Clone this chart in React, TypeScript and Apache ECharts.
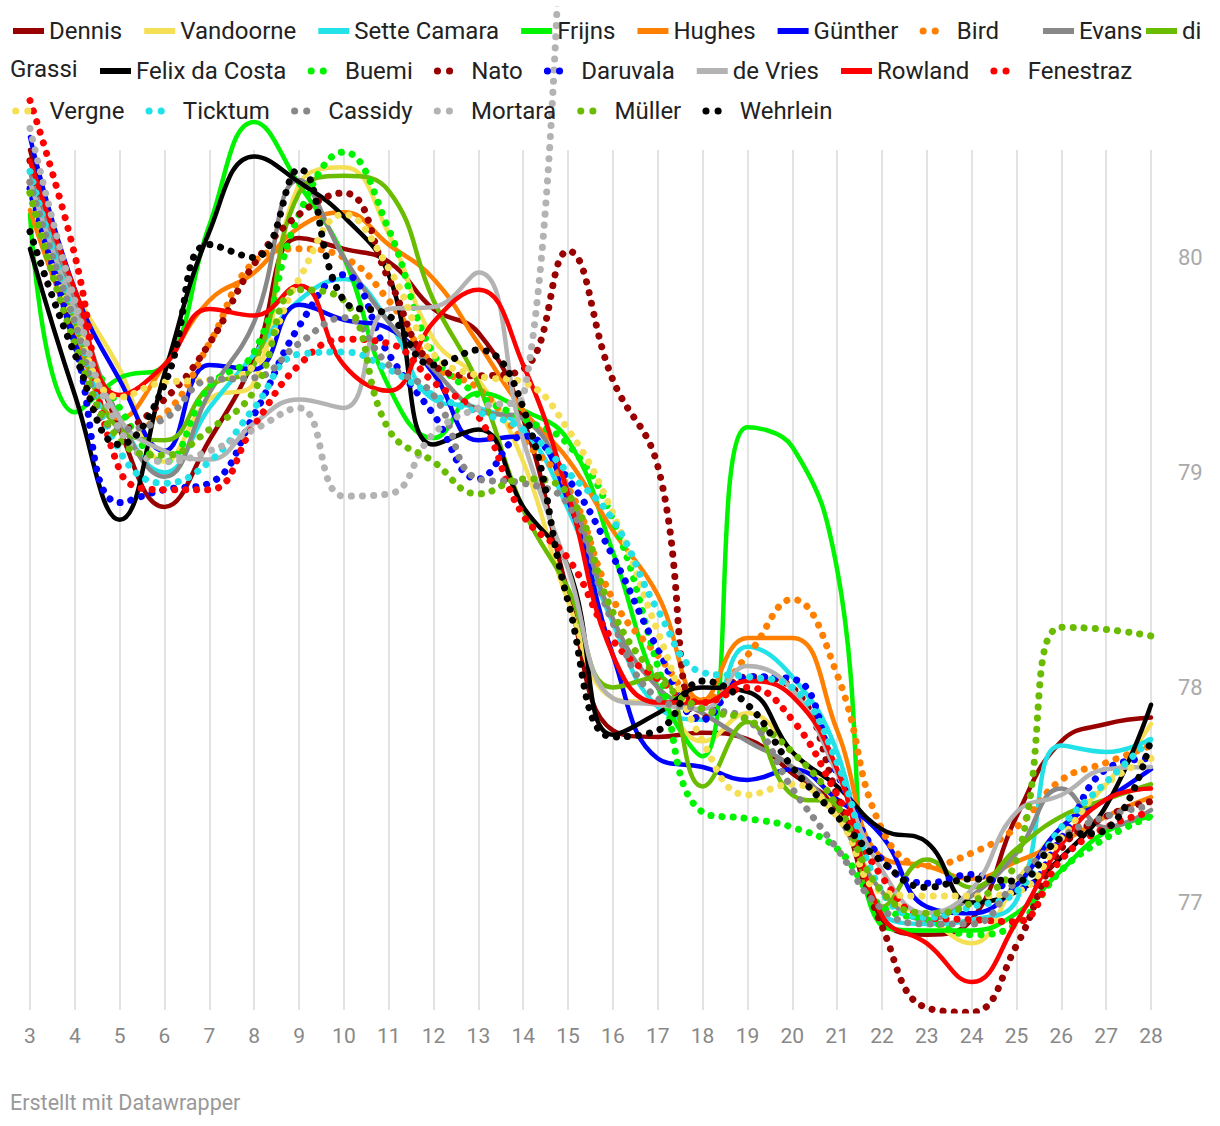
import React, { useEffect, useRef } from "react";
import * as echarts from "echarts";

const laps = [3, 4, 5, 6, 7, 8, 9, 10, 11, 12, 13, 14, 15, 16, 17, 18, 19, 20, 21, 22, 23, 24, 25, 26, 27, 28];

const dennis = [80.5, 79.8, 79.2, 78.84, 79.15, 79.53, 80.09, 80.04, 79.98, 79.76, 79.65, 79.25, 78.44, 77.8, 77.77, 77.79, 77.76, 77.6, 77.43, 76.92, 76.85, 76.92, 77.4, 77.75, 77.83, 77.86];
const vandoorne = [80.4, 79.85, 79.48, 79.05, 79.34, 79.42, 80.34, 80.42, 80.11, 79.62, 79.43, 79.05, 78.4, 77.95, 77.92, 77.75, 77.88, 77.7, 77.45, 77.05, 76.93, 76.81, 77.1, 77.35, 77.55, 77.83];
const setteCamara = [80.4, 79.75, 79.25, 79.0, 79.3, 79.55, 79.8, 79.9, 79.7, 79.34, 79.3, 79.2, 78.83, 78.3, 77.91, 77.85, 78.19, 78.05, 77.7, 76.95, 76.9, 76.92, 77.01, 77.73, 77.7, 77.76];
const frijns = [80.2, 79.28, 79.44, 79.5, 80.15, 80.63, 80.34, 80.0, 79.4, 79.16, 79.37, 79.29, 79.15, 78.63, 78.0, 77.68, 79.21, 79.12, 78.55, 76.89, 76.87, 76.87, 76.95, 77.15, 77.33, 77.4];
const hughes = [80.22, 79.65, 79.25, 79.5, 79.8, 79.93, 80.14, 80.21, 80.06, 79.9, 79.6, 79.29, 79.06, 78.73, 78.43, 77.94, 78.23, 78.23, 77.8, 77.21, 77.17, 77.11, 77.19, 77.28, 77.4, 77.49];
const guenther = [80.56, 79.85, 79.43, 79.1, 79.5, 79.48, 79.78, 79.71, 79.67, 79.46, 79.15, 79.17, 78.87, 78.15, 77.67, 77.63, 77.57, 77.62, 77.48, 77.31, 76.98, 76.95, 77.08, 77.35, 77.48, 77.62];
const bird = [80.35, 79.7, 79.2, 79.27, 79.6, 79.98, 80.04, 80.0, 79.8, 79.5, 79.39, 79.15, 78.93, 78.41, 78.15, 77.94, 78.15, 78.41, 78.06, 77.34, 77.17, 77.23, 77.35, 77.57, 77.65, 77.73];
const evans = [80.4, 79.8, 79.25, 78.98, 79.37, 79.7, 80.36, 80.0, 79.7, 79.48, 79.29, 79.25, 78.92, 78.32, 78.0, 77.88, 77.75, 77.63, 77.4, 77.05, 76.92, 77.03, 77.23, 77.53, 77.35, 77.43];
const diGrassi = [80.3, 79.7, 79.2, 79.15, 79.4, 79.5, 80.3, 80.38, 80.31, 79.8, 79.41, 78.83, 78.46, 78.0, 78.05, 77.54, 77.84, 77.5, 77.45, 76.98, 77.2, 77.07, 77.25, 77.4, 77.48, 77.55];
const felixDaCosta = [80.04, 79.36, 78.78, 79.46, 80.12, 80.47, 80.35, 80.19, 79.92, 79.13, 79.2, 78.84, 78.56, 77.78, 77.88, 78.0, 77.98, 77.7, 77.54, 77.34, 77.28, 77.0, 77.05, 77.21, 77.45, 77.92];
const buemi = [80.3, 79.7, 79.3, 79.05, 79.4, 79.56, 80.2, 80.49, 80.13, 79.55, 79.36, 79.25, 79.13, 78.78, 78.1, 77.42, 77.39, 77.35, 77.25, 76.98, 76.92, 76.85, 76.9, 77.15, 77.3, 77.4];
const nato = [80.45, 79.6, 79.2, 79.34, 79.6, 79.97, 80.2, 80.3, 79.9, 79.5, 79.45, 79.48, 80.03, 79.43, 79.03, 77.85, 78.05, 78.0, 77.5, 76.89, 76.51, 76.49, 76.8, 77.25, 77.4, 77.47];
const daruvala = [80.32, 79.6, 78.86, 78.92, 78.95, 79.27, 79.68, 79.92, 79.55, 79.27, 78.97, 79.17, 78.97, 78.61, 78.18, 77.85, 78.05, 78.04, 77.6, 77.2, 77.09, 77.13, 77.06, 77.3, 77.62, 77.67];
const deVries = [80.35, 79.75, 79.25, 79.1, 79.06, 79.23, 79.34, 79.3, 79.76, 79.77, 79.93, 79.15, 78.55, 77.95, 77.92, 77.9, 78.1, 77.99, 77.6, 77.15, 76.95, 77.06, 77.42, 77.5, 77.62, 77.63];
const rowland = [80.45, 79.85, 79.36, 79.5, 79.76, 79.73, 79.87, 79.5, 79.38, 79.7, 79.85, 79.5, 78.9, 78.15, 77.93, 77.93, 78.03, 77.96, 77.62, 76.94, 76.81, 76.63, 76.91, 77.27, 77.48, 77.53];
const fenestraz = [80.73, 80.01, 79.01, 78.92, 78.92, 79.22, 79.5, 79.62, 79.6, 79.42, 79.26, 78.8, 78.6, 78.22, 78.04, 77.93, 78.0, 77.85, 77.5, 77.12, 76.93, 76.92, 76.91, 77.2, 77.35, 77.42];
const vergne = [80.3, 79.7, 79.35, 79.42, 79.43, 79.5, 79.9, 80.2, 79.95, 79.55, 79.45, 79.42, 79.2, 78.81, 78.26, 77.75, 77.5, 77.55, 77.4, 77.05, 77.03, 77.03, 77.05, 77.3, 77.55, 77.67];
const ticktum = [80.4, 79.7, 79.1, 78.95, 79.05, 79.3, 79.55, 79.56, 79.48, 79.36, 79.28, 79.2, 79.0, 78.78, 78.36, 78.07, 78.05, 78.0, 77.65, 77.05, 76.93, 76.98, 77.05, 77.35, 77.56, 77.76];
const cassidy = [80.35, 79.7, 79.2, 79.25, 79.43, 79.44, 79.6, 79.72, 79.5, 79.36, 78.97, 78.95, 78.85, 78.3, 77.95, 77.9, 77.85, 77.53, 77.25, 76.97, 76.9, 76.9, 77.1, 77.3, 77.4, 77.45];
const mortara = [80.6, 79.8, 79.2, 79.05, 79.1, 79.2, 79.3, 78.89, 78.9, 79.18, 79.3, 79.35, 83.0, null, null, null, null, null, null, null, null, null, null, null, null, null];
const mueller = [80.3, 79.6, 79.15, 79.08, 79.2, 79.38, 79.85, 79.8, 79.2, 79.05, 78.9, 78.97, 78.9, 78.35, 78.05, 77.9, 77.85, 77.7, 77.45, 77.05, 76.95, 77.0, 77.2, 78.28, 78.27, 78.24];
const wehrlein = [80.12, 79.55, 79.13, 79.41, 80.06, 80.0, 80.41, 79.8, 79.73, 79.5, 79.57, 79.3, 78.4, 77.77, 77.8, 78.03, 77.92, 77.63, 77.4, 77.19, 77.07, 77.11, 77.1, 77.3, 77.34, 77.76];

const yTickLabels = [77, 78, 79, 80];

const driverNames = [
  "Dennis", "Vandoorne", "Sette Camara", "Frijns", "Hughes", "Günther", "Bird", "Evans", "di Grassi",
  "Felix da Costa", "Buemi", "Nato", "Daruvala", "de Vries", "Rowland", "Fenestraz",
  "Vergne", "Ticktum", "Cassidy", "Mortara", "Müller", "Wehrlein",
];
const driverValues = [
  dennis, vandoorne, setteCamara, frijns, hughes, guenther, bird, evans, diGrassi,
  felixDaCosta, buemi, nato, daruvala, deVries, rowland, fenestraz,
  vergne, ticktum, cassidy, mortara, mueller, wehrlein,
];
const driverColors = [
  "#990000", "#f5df55", "#22e2e8", "#00f400", "#ff8000", "#0000ff", "#ff8000", "#888888", "#6abc00",
  "#000000", "#00f400", "#990000", "#0000ff", "#b3b3b3", "#ff0000", "#ff0000",
  "#f5df55", "#22e2e8", "#888888", "#b3b3b3", "#6abc00", "#000000",
];
const driverDotted = [
  false, false, false, false, false, false, true, false, false,
  false, true, true, true, false, false, true,
  true, true, true, true, true, true,
];

const legendRows = [
  driverNames.slice(0, 7),
  driverNames.slice(7, 8),
  driverNames.slice(8, 9),
  driverNames.slice(9, 16),
  driverNames.slice(16),
];

const FONT = "Roboto, 'Noto Sans', sans-serif";

export default function App() {
  const ref = useRef<HTMLDivElement>(null);

  useEffect(() => {
    if (!ref.current) return;
    const chart = echarts.init(ref.current, undefined, { renderer: "svg" });

    const series = driverNames.map((name, i) => {
      const dotted = driverDotted[i];
      return {
        type: "line",
        name,
        xAxisIndex: 0,
        yAxisIndex: 0,
        data: laps.map((lap, j) => [lap, driverValues[i][j]]),
        smooth: 0.45,
        symbol: "none",
        showSymbol: false,
        silent: true,
        clip: true,
        itemStyle: { color: driverColors[i] },
        lineStyle: {
          color: driverColors[i],
          width: dotted ? 7 : 4.5,
          type: dotted ? [0.1, 11] : "solid",
          cap: "round",
          join: "round",
        },
        emphasis: { disabled: true },
      };
    });

    const legendItem = (name: string) => {
      const i = driverNames.indexOf(name);
      return driverDotted[i]
        ? {
            name,
            lineStyle: { width: 7, type: [0.1, 12, 0.1, 40], dashOffset: 50.4, cap: "round" },
          }
        : { name, lineStyle: { width: 6, cap: "butt" } };
    };

    const legendBase = {
      orient: "horizontal",
      itemWidth: 31,
      itemHeight: 20,
      itemGap: 19,
      padding: 0,
      width: 1210,
      selectedMode: false,
      itemStyle: { opacity: 0 },
      textStyle: { fontSize: 24, color: "#222", fontFamily: FONT, padding: [0, 0, 0, 0] },
    };

    chart.setOption({
      animation: false,
      backgroundColor: "#ffffff",
      grid: [
        { left: 30, right: 69, top: 10, height: 1000, containLabel: false },
        { left: 30, right: 69, top: 150, height: 860, containLabel: false },
      ],
      legend: [
        { ...legendBase, left: 10, top: 19, data: legendRows[0].map(legendItem) },
        { ...legendBase, left: 1040, top: 19, width: 110, data: legendRows[1].map(legendItem) },
        {
          ...legendBase,
          left: 1143,
          top: 19,
          width: 77,
          data: legendRows[2].map(legendItem),
          formatter: (n: string) => (n === "di Grassi" ? "di" : n),
        },
        { ...legendBase, left: 97, top: 59, data: legendRows[3].map(legendItem) },
        { ...legendBase, left: 10, top: 99, data: legendRows[4].map(legendItem) },
      ],
      xAxis: [
        {
          type: "value",
          gridIndex: 0,
          min: 3,
          max: 28,
          interval: 1,
          axisLine: { show: false },
          axisTick: { show: false },
          splitLine: { show: false },
          axisLabel: { fontSize: 21, color: "#888888", margin: 15, fontFamily: FONT },
        },
        {
          type: "value",
          gridIndex: 1,
          min: 3,
          max: 28,
          interval: 1,
          axisLine: { show: false },
          axisTick: { show: false },
          axisLabel: { show: false },
          splitLine: { show: true, lineStyle: { color: "#e3e3e3", width: 2 } },
        },
      ],
      yAxis: [
        {
          type: "value",
          gridIndex: 0,
          position: "right",
          min: 76.5,
          max: 81.151,
          interval: 0.5,
          axisLine: { show: false },
          axisTick: { show: false },
          splitLine: { show: false },
          axisLabel: {
            fontSize: 22,
            color: "#aaaaaa",
            margin: 27,
            fontFamily: FONT,
            showMaxLabel: false,
            formatter: (v: number) => (yTickLabels.indexOf(v) >= 0 ? String(v) : ""),
          },
        },
        { type: "value", gridIndex: 1, show: false, min: 0, max: 1 },
      ],
      graphic: [
        {
          type: "text",
          left: 10,
          top: 57,
          style: { text: "Grassi", fontSize: 24, fill: "#222", fontFamily: FONT },
        },
        {
          type: "text",
          left: 10,
          top: 1091,
          style: { text: "Erstellt mit Datawrapper", fontSize: 21.5, fill: "#999999", fontFamily: FONT },
        },
      ],
      series,
    });

    return () => chart.dispose();
  }, []);

  return (
    <div
      ref={ref}
      style={{ position: "absolute", left: 0, top: 0, width: 1220, height: 1126 }}
    />
  );
}
